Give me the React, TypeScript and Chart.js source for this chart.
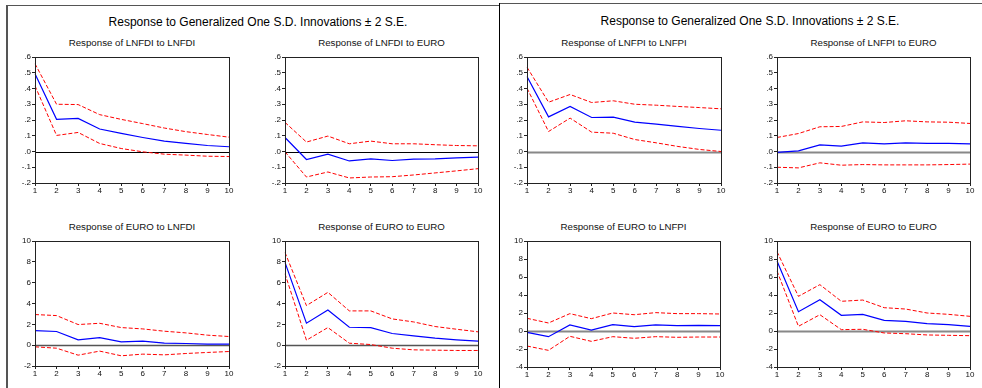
import React, { useEffect, useRef } from 'react';
import { Chart, registerables } from 'chart.js';

Chart.register(...registerables);

// ---------- data ----------
const periods = ['1', '2', '3', '4', '5', '6', '7', '8', '9', '10'];

// Left block: LNFDI / EURO
const fdiToFdiResp = [0.494, 0.204, 0.21, 0.143, 0.115, 0.089, 0.066, 0.051, 0.038, 0.03];
const fdiToFdiUpper = [0.557, 0.3, 0.298, 0.234, 0.204, 0.177, 0.149, 0.126, 0.108, 0.091];
const fdiToFdiLower = [0.417, 0.102, 0.121, 0.051, 0.019, -0.002, -0.017, -0.023, -0.03, -0.032];

const fdiToEuroResp = [0.089, -0.051, -0.017, -0.06, -0.047, -0.057, -0.049, -0.047, -0.04, -0.036];
const fdiToEuroUpper = [0.185, 0.06, 0.098, 0.049, 0.066, 0.049, 0.049, 0.043, 0.038, 0.036];
const fdiToEuroLower = [-0.002, -0.162, -0.13, -0.168, -0.162, -0.16, -0.149, -0.136, -0.123, -0.109];

const euroToFdiResp = [1.4, 1.31, 0.51, 0.73, 0.32, 0.38, 0.19, 0.16, 0.1, 0.1];
const euroToFdiUpper = [2.94, 2.84, 1.98, 2.1, 1.69, 1.56, 1.34, 1.18, 0.96, 0.83];
const euroToFdiLower = [-0.16, -0.29, -0.96, -0.57, -1.02, -0.86, -0.93, -0.8, -0.7, -0.61];

const euroToEuroAResp = [7.95, 2.11, 3.38, 1.72, 1.69, 1.12, 0.89, 0.67, 0.51, 0.38];
const euroToEuroAUpper = [8.9, 3.8, 5.07, 3.29, 3.29, 2.52, 2.23, 1.79, 1.53, 1.28];
const euroToEuroALower = [6.86, 0.48, 1.69, 0.19, 0.06, -0.29, -0.45, -0.48, -0.51, -0.51];

// Right block: LNFPI / EURO
const fpiToFpiResp = [0.476, 0.22, 0.286, 0.216, 0.218, 0.186, 0.174, 0.159, 0.146, 0.135];
const fpiToFpiUpper = [0.535, 0.313, 0.362, 0.311, 0.322, 0.3, 0.294, 0.286, 0.279, 0.271];
const fpiToFpiLower = [0.402, 0.127, 0.212, 0.123, 0.116, 0.076, 0.055, 0.032, 0.013, 0.0];

const fpiToEuroResp = [-0.006, 0.004, 0.042, 0.034, 0.055, 0.049, 0.055, 0.051, 0.051, 0.049];
const fpiToEuroUpper = [0.089, 0.114, 0.157, 0.159, 0.188, 0.184, 0.195, 0.188, 0.186, 0.178];
const fpiToEuroLower = [-0.1, -0.104, -0.072, -0.087, -0.083, -0.085, -0.085, -0.085, -0.083, -0.08];

const euroToFpiResp = [-0.15, -0.63, 0.67, 0.11, 0.7, 0.48, 0.67, 0.59, 0.63, 0.59];
const euroToFpiUpper = [1.41, 0.89, 1.93, 1.37, 2.0, 1.81, 2.04, 1.93, 1.93, 1.89];
const euroToFpiLower = [-1.67, -2.15, -0.59, -1.15, -0.63, -0.81, -0.63, -0.7, -0.67, -0.67];

const euroToEuroBResp = [7.78, 2.15, 3.48, 1.74, 1.85, 1.19, 1.07, 0.81, 0.7, 0.52];
const euroToEuroBUpper = [8.81, 3.85, 5.15, 3.3, 3.44, 2.59, 2.44, 2.0, 1.85, 1.63];
const euroToEuroBLower = [6.67, 0.52, 1.81, 0.15, 0.19, -0.22, -0.3, -0.44, -0.48, -0.52];

const mainTitle = 'Response to Generalized One S.D. Innovations \u00B1 2 S.E.';

// ---------- layout ----------
const AX_W = 30;
const AX_H = 14;
const PAD_T = 8;
const PAD_R = 10;
const FONT = "'Liberation Sans', Arial, sans-serif";

type Cfg = {
  title: string;
  resp: number[];
  upper: number[];
  lower: number[];
  min: number;
  max: number;
  step: number;
  decimal: boolean;
  zeroColor: string;
  zeroWidth: number;
  box: [number, number, number, number]; // left, top, right, bottom of plot area
};

const panels: Cfg[] = [
  { title: 'Response of LNFDI to LNFDI', resp: fdiToFdiResp, upper: fdiToFdiUpper, lower: fdiToFdiLower,
    min: -0.2, max: 0.6, step: 0.1, decimal: true, zeroColor: '#000', zeroWidth: 1, box: [35, 57, 229, 183] },
  { title: 'Response of LNFDI to EURO', resp: fdiToEuroResp, upper: fdiToEuroUpper, lower: fdiToEuroLower,
    min: -0.2, max: 0.6, step: 0.1, decimal: true, zeroColor: '#000', zeroWidth: 1, box: [285, 57, 478, 183] },
  { title: 'Response of EURO to LNFDI', resp: euroToFdiResp, upper: euroToFdiUpper, lower: euroToFdiLower,
    min: -2, max: 10, step: 2, decimal: false, zeroColor: '#555', zeroWidth: 1.5, box: [35, 241, 229, 366] },
  { title: 'Response of EURO to EURO', resp: euroToEuroAResp, upper: euroToEuroAUpper, lower: euroToEuroALower,
    min: -2, max: 10, step: 2, decimal: false, zeroColor: '#555', zeroWidth: 1.5, box: [285, 241, 478, 366] },
  { title: 'Response of LNFPI to LNFPI', resp: fpiToFpiResp, upper: fpiToFpiUpper, lower: fpiToFpiLower,
    min: -0.2, max: 0.6, step: 0.1, decimal: true, zeroColor: '#888', zeroWidth: 2, box: [527, 57, 721, 183] },
  { title: 'Response of LNFPI to EURO', resp: fpiToEuroResp, upper: fpiToEuroUpper, lower: fpiToEuroLower,
    min: -0.2, max: 0.6, step: 0.1, decimal: true, zeroColor: '#888', zeroWidth: 2, box: [777, 57, 970, 183] },
  { title: 'Response of EURO to LNFPI', resp: euroToFpiResp, upper: euroToFpiUpper, lower: euroToFpiLower,
    min: -4, max: 10, step: 2, decimal: false, zeroColor: '#888', zeroWidth: 2, box: [527, 241, 720, 367] },
  { title: 'Response of EURO to EURO', resp: euroToEuroBResp, upper: euroToEuroBUpper, lower: euroToEuroBLower,
    min: -4, max: 10, step: 2, decimal: false, zeroColor: '#888', zeroWidth: 2, box: [777, 241, 970, 367] },
];

const framePlugin = {
  id: 'frame',
  beforeDatasetsDraw(chart: any, _args: any, opts: any) {
    const { ctx, chartArea } = chart;
    const y = Math.round(chart.scales.y.getPixelForValue(0)) + 0.5;
    ctx.save();
    ctx.strokeStyle = opts.zeroColor || '#000';
    ctx.lineWidth = opts.zeroWidth || 1;
    ctx.beginPath();
    ctx.moveTo(chartArea.left, y);
    ctx.lineTo(chartArea.right, y);
    ctx.stroke();
    ctx.restore();
  },
  afterDatasetsDraw(chart: any) {
    const { ctx, chartArea } = chart;
    ctx.save();
    ctx.strokeStyle = '#222';
    ctx.lineWidth = 1;
    ctx.strokeRect(
      Math.round(chartArea.left) + 0.5,
      Math.round(chartArea.top) + 0.5,
      Math.round(chartArea.right - chartArea.left),
      Math.round(chartArea.bottom - chartArea.top)
    );
    ctx.restore();
  },
};

function fmtTick(v: number, decimal: boolean) {
  if (!decimal) return String(Math.round(v));
  let s = (Math.round(v * 10) / 10).toFixed(1);
  s = s.replace('0.', '.');
  return s;
}

function IrfChart({ cfg }: { cfg: Cfg }) {
  const ref = useRef<HTMLCanvasElement>(null);
  const [l, t, r, b] = cfg.box;
  const w = r - l + AX_W + PAD_R;
  const h = b - t + PAD_T + AX_H;

  useEffect(() => {
    if (!ref.current) return;
    const tickFont = { family: FONT, size: 8 };
    const chart = new Chart(ref.current, {
      type: 'line',
      data: {
        labels: periods,
        datasets: [
          { data: cfg.upper, borderColor: '#ff0000', borderWidth: 1, borderDash: [4, 2], pointRadius: 0, fill: false, tension: 0 },
          { data: cfg.lower, borderColor: '#ff0000', borderWidth: 1, borderDash: [4, 2], pointRadius: 0, fill: false, tension: 0 },
          { data: cfg.resp, borderColor: '#0000ff', borderWidth: 1.2, pointRadius: 0, fill: false, tension: 0 },
        ],
      },
      options: {
        responsive: false,
        maintainAspectRatio: false,
        animation: false,
        events: [],
        layout: { padding: { top: PAD_T, right: PAD_R, left: 0, bottom: 0 } },
        plugins: {
          legend: { display: false },
          tooltip: { enabled: false },
          title: { display: false },
          frame: { zeroColor: cfg.zeroColor, zeroWidth: cfg.zeroWidth },
        } as any,
        scales: {
          x: {
            type: 'category',
            offset: false,
            grid: { display: true, drawOnChartArea: false, drawTicks: true, tickLength: 3, color: '#222' },
            border: { display: true, color: '#222' },
            ticks: { font: tickFont, color: '#111', padding: 0, maxRotation: 0, autoSkip: false },
            afterFit: (s: any) => { s.height = AX_H; },
          },
          y: {
            min: cfg.min,
            max: cfg.max,
            grid: { display: true, drawOnChartArea: false, drawTicks: true, tickLength: 3, color: '#222' },
            border: { display: true, color: '#222' },
            ticks: {
              stepSize: cfg.step,
              font: tickFont,
              color: '#111',
              padding: 1,
              callback: (v: any) => fmtTick(Number(v), cfg.decimal),
            },
            afterFit: (s: any) => { s.width = AX_W; },
          },
        },
      } as any,
      plugins: [framePlugin as any],
    });
    return () => chart.destroy();
  }, []);

  return (
    <>
      <div
        style={{
          position: 'absolute',
          left: l,
          width: r - l,
          top: t - 20,
          height: 12,
          lineHeight: '12px',
          textAlign: 'center',
          fontFamily: FONT,
          fontSize: 9.7,
          color: '#111',
          whiteSpace: 'nowrap',
        }}
      >
        {cfg.title}
      </div>
      <canvas
        ref={ref}
        width={w}
        height={h}
        style={{ position: 'absolute', left: l - AX_W, top: t - PAD_T, width: w, height: h }}
      />
    </>
  );
}

export default function App() {
  return (
    <div
      style={{
        position: 'fixed',
        left: 0,
        top: 0,
        width: 982,
        height: 388,
        background: '#fff',
        overflow: 'hidden',
      }}
    >
      {/* block borders */}
      <div style={{ position: 'absolute', left: 6, top: 5, width: 493, height: 1, background: '#555' }} />
      <div style={{ position: 'absolute', left: 6, top: 5, width: 2, height: 383, background: '#555' }} />
      <div style={{ position: 'absolute', left: 499, top: 3, width: 483, height: 1, background: '#555' }} />
      <div style={{ position: 'absolute', left: 499, top: 3, width: 1, height: 385, background: '#000' }} />

      <div
        style={{
          position: 'absolute', left: 8, width: 500, top: 14, height: 16, lineHeight: '16px',
          textAlign: 'center', fontFamily: FONT, fontSize: 12, color: '#000', whiteSpace: 'nowrap',
        }}
      >
        {mainTitle}
      </div>
      <div
        style={{
          position: 'absolute', left: 500, width: 500, top: 13, height: 16, lineHeight: '16px',
          textAlign: 'center', fontFamily: FONT, fontSize: 12, color: '#000', whiteSpace: 'nowrap',
        }}
      >
        {mainTitle}
      </div>

      {panels.map((p, i) => (
        <IrfChart key={i} cfg={p} />
      ))}
    </div>
  );
}
